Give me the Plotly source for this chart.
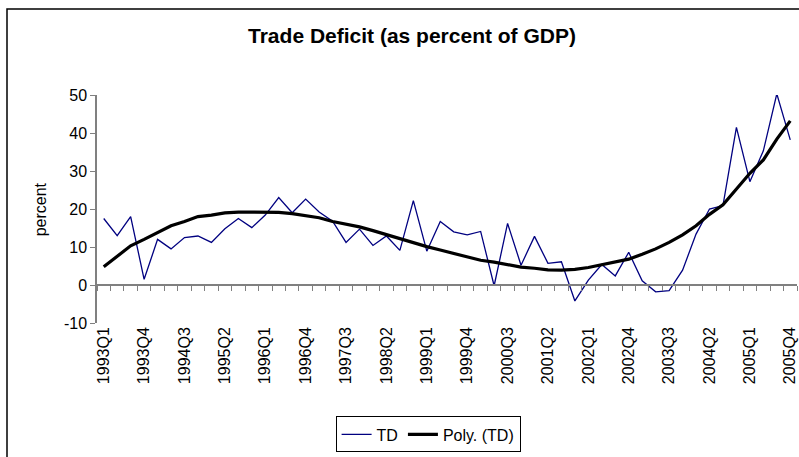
import plotly.graph_objects as go

quarters = [f'{y}Q{q}' for y in range(1993, 2006) for q in range(1, 5)]

td = [17.5, 13.0, 18.0, 1.5, 12.0, 9.5, 12.5, 12.9, 11.2, 14.8,
      17.5, 15.1, 18.4, 23.0, 19.0, 22.6, 19.2, 16.8, 11.2, 14.7,
      10.4, 12.9, 9.1, 22.2, 8.9, 16.7, 14.0, 13.2, 14.1, -0.2,
      16.2, 5.2, 12.8, 5.7, 6.1, -4.2, 1.3, 5.4, 2.4, 8.6,
      1.1, -1.8, -1.5, 3.9, 13.4, 20.0, 20.9, 41.5, 27.2, 35.3,
      50.3, 38.2]

poly_td = [4.8, 7.5, 10.3, 12.0, 13.8, 15.6, 16.7, 18.0, 18.4, 19.0,
           19.2, 19.2, 19.2, 19.1, 18.8, 18.3, 17.7, 16.7, 16.1, 15.3,
           14.3, 13.2, 12.1, 11.1, 10.1, 9.2, 8.3, 7.3, 6.5, 6.0,
           5.3, 4.7, 4.4, 4.0, 3.9, 4.1, 4.6, 5.3, 6.0, 6.8,
           8.1, 9.5, 11.2, 13.2, 15.6, 18.6, 21.1, 25.3, 29.4, 32.9,
           38.4, 43.2]

y_ticks = [-10, 0, 10, 20, 30, 40, 50]
y_tick_text = ['-10', '0', '10', '20', '30', '40', '50']

x = list(range(len(quarters)))
label_pos = x[::3]
label_txt = quarters[::3]

FONT = 'Liberation Sans, Arial, sans-serif'

fig = go.Figure()
fig.add_trace(go.Scatter(x=x, y=td, name='TD', mode='lines',
                         line=dict(color='#000080', width=1.3)))
fig.add_trace(go.Scatter(x=x, y=poly_td, name='Poly. (TD)', mode='lines',
                         line=dict(color='black', width=3.2)))
# invisible trace so the zero-crossing category axis gets drawn
fig.add_trace(go.Scatter(x=[x[0]], y=[0], xaxis='x2', mode='markers',
                         marker=dict(opacity=0), showlegend=False,
                         hoverinfo='skip'))

fig.update_layout(
    width=799, height=457,
    margin=dict(l=97, r=2, t=95, b=134),
    paper_bgcolor='white', plot_bgcolor='white',
    font=dict(family=FONT, size=16, color='black'),
    title=dict(text='<b>Trade Deficit (as percent of GDP)</b>',
               x=412 / 799, xref='container', xanchor='center',
               y=1 - 36 / 457, yref='container', yanchor='middle',
               font=dict(size=21, family=FONT)),
    xaxis=dict(range=[-0.5, len(x) - 0.5], tickvals=label_pos,
               ticktext=label_txt, tickangle=-90, ticks='', ticklen=6,
               showgrid=False, zeroline=False, showline=False,
               tickfont=dict(size=16)),
    xaxis2=dict(range=[-0.5, len(x) - 0.5], overlaying='x', anchor='free',
                position=(0 - y_ticks[0]) / (y_ticks[-1] - y_ticks[0]),
                showline=True, linecolor='#808080', linewidth=1.5,
                ticks='outside', ticklen=5, tickcolor='#808080',
                tick0=-0.5, dtick=1, showticklabels=False,
                showgrid=False, zeroline=False),
    yaxis=dict(range=[y_ticks[0], y_ticks[-1]], tickvals=y_ticks,
               ticktext=y_tick_text,
               ticks='outside', ticklen=5, tickcolor='#808080',
               showline=True, linecolor='#808080', linewidth=1.5,
               showgrid=False, zeroline=False, tickfont=dict(size=16)),
    legend=dict(orientation='h', x=0.473, xanchor='center',
                y=-0.41, yanchor='top', bordercolor='black', borderwidth=1,
                font=dict(size=16), tracegroupgap=0),
    annotations=[dict(text='percent', textangle=-90, showarrow=False,
                      xref='paper', yref='paper', x=-0.081, y=0.5,
                      xanchor='center', yanchor='middle',
                      font=dict(size=16))],
    shapes=[dict(type='rect', xref='paper', yref='paper',
                 x0=(7 - 97) / 700, x1=1.2, y0=-0.8, y1=(323 - 9) / 228,
                 line=dict(color='black', width=1.5))],
)

fig.write_html('out.html', config={'displayModeBar': False},
               post_script="document.body.style.margin='0';")
